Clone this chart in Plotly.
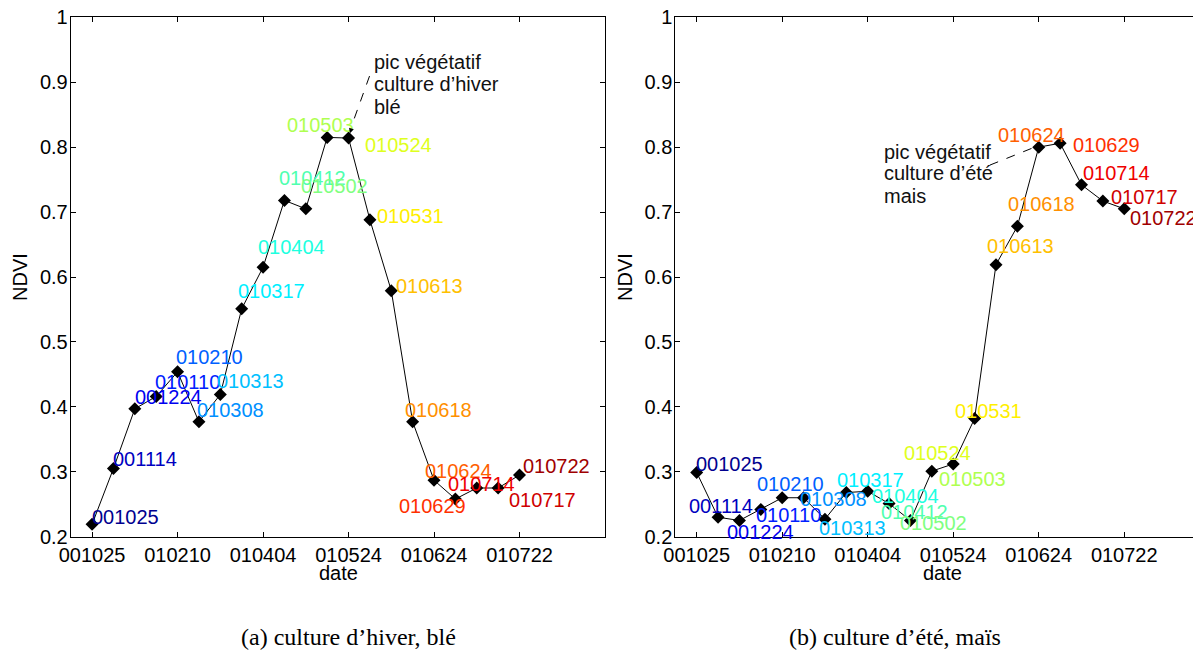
import plotly.graph_objects as go

# page body adds an 8 px margin, so the figure is 8 px smaller than the window
OFF = 8
W, H = 1201 - OFF, 657 - OFF

# acquisition dates (yymmdd) and NDVI profiles
dates = ["001025", "001114", "001224", "010110", "010210", "010308", "010313",
         "010317", "010404", "010412", "010502", "010503", "010524", "010531",
         "010613", "010618", "010624", "010629", "010714", "010717", "010722"]
ndvi_hiver = [0.219, 0.305, 0.397, 0.416, 0.454, 0.377, 0.419, 0.551, 0.615,
              0.718, 0.705, 0.815, 0.814, 0.688, 0.579, 0.377, 0.287, 0.258,
              0.275, 0.275, 0.295]
ndvi_ete = [0.299, 0.230, 0.225, 0.242, 0.260, 0.260, 0.227, 0.268, 0.270,
            0.251, 0.225, 0.301, 0.312, 0.382, 0.619, 0.678, 0.800, 0.806,
            0.742, 0.717, 0.705]
xtick_labels = ["001025", "010210", "010404", "010524", "010624", "010722"]
ytick_vals = [0.2, 0.3, 0.4, 0.5, 0.6, 0.7, 0.8, 0.9, 1.0]
ytick_text = ["0.2", "0.3", "0.4", "0.5", "0.6", "0.7", "0.8", "0.9", "1"]

# jet-like label colours, one per date
label_colors = ["#00008f", "#0000c0", "#0000ef", "#0020ff", "#0060ff", "#0090ff",
                "#00bfff", "#00efff", "#20ffdf", "#50ffaf", "#80ff80", "#afff50",
                "#dfff20", "#ffef00", "#ffbf00", "#ff8f00", "#ff6000", "#ff3000",
                "#ef0000", "#cf0000", "#a00000"]

# pixel offsets (dx, dy down) of each date label from its point
off_hiver = [(-1, -7), (-1, -10), (-1, -12), (-2, -14), (-3, -15), (-3, -12),
             (-4, -14), (-5, -18), (-6, -20), (-6, -22), (-6, -23), (-41, -12),
             (15, 7), (6, -4), (4, -5), (-9, -12), (-10, -9), (-57, 7),
             (-30, -4), (10, 12), (2, -9)]
off_ete = [(-2, -8), (-30, -11), (-13, 12), (-6, 6), (-26, -14), (-5, 1),
           (-7, 9), (-10, -13), (3, 5), (-9, 8), (-11, 3), (6, 8), (-50, -11),
           (-21, -8), (-10, -19), (-10, -22), (-42, -12), (12, 2), (1, -12),
           (7, -4), (5, 9)]

SANS = "Liberation Sans, Arial, Helvetica, sans-serif"
SERIF = "Liberation Serif, Times New Roman, serif"


def px(x):
    return (x - OFF) / W


def py(y):
    return 1 - (y - OFF) / H


fig = go.Figure()
for vals, xa, ya in [(ndvi_hiver, "x", "y"), (ndvi_ete, "x2", "y2")]:
    fig.add_trace(go.Scatter(
        x=dates, y=vals, xaxis=xa, yaxis=ya, mode="lines+markers",
        line=dict(color="black", width=1),
        marker=dict(symbol="diamond", size=10, color="black"),
        showlegend=False, hoverinfo="skip"))

ann = []
for vals, offs, xa, ya in [(ndvi_hiver, off_hiver, "x", "y"),
                           (ndvi_ete, off_ete, "x2", "y2")]:
    for i, (d, v, (dx, dy), c) in enumerate(zip(dates, vals, offs, label_colors)):
        ann.append(dict(x=i, y=v, xref=xa, yref=ya, text=d, showarrow=False,
                        xanchor="left", yanchor="middle", xshift=dx, yshift=-dy,
                        borderpad=0, font=dict(family=SANS, size=20, color=c)))

# callouts
callouts = [
    ("x", "y", 12, ndvi_hiver[12], 24,
     [("pic végétatif", 76), ("culture d’hiver", 54), ("blé", 31)]),
    ("x2", "y2", 16, ndvi_ete[16], -156,
     [("pic végétatif", -5), ("culture d’été", -26), ("mais", -49)]),
]
for xa, ya, xi, yd, xs, lines in callouts:
    for t, ys in lines:
        ann.append(dict(x=xi, y=yd, xref=xa, yref=ya, text=t, showarrow=False,
                        xanchor="left", yanchor="middle", xshift=xs, yshift=ys,
                        borderpad=0, font=dict(family=SANS, size=20, color="#111")))

shapes = [
    dict(type="line", xref="x", yref="y", xsizemode="pixel", ysizemode="pixel",
         xanchor=12, yanchor=ndvi_hiver[12], x0=21, y0=62, x1=3, y1=12,
         line=dict(color="black", width=1, dash="dash")),
    dict(type="line", xref="x2", yref="y2", xsizemode="pixel", ysizemode="pixel",
         xanchor=16, yanchor=ndvi_ete[16], x0=-49, y0=-18, x1=-4, y1=0,
         line=dict(color="black", width=1, dash="dash")),
]
ann.append(dict(x=12, y=ndvi_hiver[12], xref="x", yref="y", text="",
                showarrow=True, ax=3, ay=-10, standoff=5, arrowhead=2,
                arrowsize=1, arrowwidth=1, arrowcolor="black"))

# axis titles and captions (positions in window pixels)
for x0, y0, t, ang, fam, sz in [
        (20, 277, "NDVI", -90, SANS, 20), (625, 277, "NDVI", -90, SANS, 20),
        (338, 573, "date", 0, SANS, 20), (942, 573, "date", 0, SANS, 20),
        (348, 637, "(a) culture d’hiver, blé", 0, SERIF, 24),
        (895, 637, "(b) culture d’été, maïs", 0, SERIF, 24)]:
    ann.append(dict(x=px(x0), y=py(y0), xref="paper", yref="paper", text=t,
                    showarrow=False, textangle=ang, xanchor="center",
                    yanchor="middle", font=dict(family=fam, size=sz, color="black")))

axis_common = dict(showline=True, linecolor="black", linewidth=1, ticks="inside",
                   ticklen=5, tickcolor="black", showgrid=False, zeroline=False,
                   automargin=False, ticklabeloverflow="allow",
                   tickfont=dict(family=SANS, size=20, color="black"))
ydom = [py(536.7), py(17.3)]

fig.update_layout(
    width=W, height=H, margin=dict(l=0, r=0, t=0, b=0, pad=0),
    paper_bgcolor="white", plot_bgcolor="white",
    xaxis=dict(domain=[px(70.7), px(605)], type="category", range=[-1, 24],
               tickvals=xtick_labels, mirror="ticks", anchor="y", **axis_common),
    yaxis=dict(domain=ydom, range=[0.2, 1], tickvals=ytick_vals,
               ticktext=ytick_text, mirror="ticks", anchor="x",
               ticklabelstandoff=-2, **axis_common),
    xaxis2=dict(domain=[px(675.3), 1], type="category", range=[-1, 23.59],
                tickvals=xtick_labels, mirror="ticks", anchor="y2", **axis_common),
    yaxis2=dict(domain=ydom, range=[0.2, 1], tickvals=ytick_vals,
                ticktext=ytick_text, anchor="x2", ticklabelstandoff=-2,
                **axis_common),
    annotations=ann, shapes=shapes,
)

fig.write_html("out.html")
